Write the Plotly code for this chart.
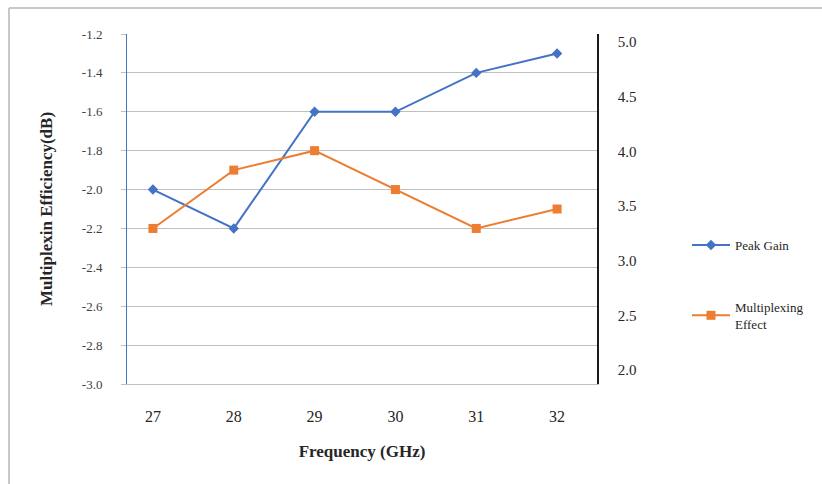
import plotly.graph_objects as go

# Frequency points (GHz)
freq = [27, 28, 29, 30, 31, 32]
# Series values in dB
peak_gain = [-2.0, -2.2, -1.6, -1.6, -1.4, -1.3]
multiplexing_effect = [-2.2, -1.9, -1.8, -2.0, -2.2, -2.1]

# Tick labels
left_ticks = [-3.0, -2.8, -2.6, -2.4, -2.2, -2.0, -1.8, -1.6, -1.4, -1.2]
right_ticks = [2.0, 2.5, 3.0, 3.5, 4.0, 4.5, 5.0]

BLUE = "#4472C4"
ORANGE = "#ED7D31"
SERIF = "'Liberation Serif', 'Times New Roman', serif"
TICK_COLOR = "#404040"
TEXT_COLOR = "#262626"

fig = go.Figure()

fig.add_trace(go.Scatter(
    x=freq, y=peak_gain, name="Peak Gain", mode="lines+markers",
    line=dict(color=BLUE, width=2),
    marker=dict(symbol="diamond", size=8, color=BLUE),
    legendgroup="a",
))
fig.add_trace(go.Scatter(
    x=freq, y=multiplexing_effect, name="Multiplexing<br>Effect", mode="lines+markers",
    line=dict(color=ORANGE, width=2),
    marker=dict(symbol="square", size=9, color=ORANGE),
    legendgroup="b",
))
# Invisible trace so the secondary axis is drawn
fig.add_trace(go.Scatter(
    x=[freq[0]], y=[right_ticks[0]], yaxis="y2", mode="markers",
    marker=dict(opacity=0), showlegend=False, hoverinfo="skip",
))

# Plot area in pixels: left 127, right 597, top 34, bottom 384
L, R, T, B = 127, 597, 34, 384
W, H = 822, 484
pw, ph = R - L, B - T

def px_x(px):
    return (px - L) / pw

def px_y(py):
    return (B - py) / ph

fig.update_layout(
    width=W, height=H,
    margin=dict(l=L, r=W - R, t=T, b=H - B, pad=0, autoexpand=False),
    paper_bgcolor="white", plot_bgcolor="white",
    font=dict(family=SERIF, size=12, color=TICK_COLOR),
    xaxis=dict(
        range=[27 - 26 / 81, 32 + 40 / 81],
        tickvals=freq, ticktext=[str(f) for f in freq],
        showgrid=False, zeroline=False,
        showline=True, linecolor="#BFBFBF", linewidth=1,
        ticks="", ticklabelstandoff=18,
        tickfont=dict(family=SERIF, size=16, color=TEXT_COLOR),
        title=dict(text="<b>Frequency (GHz)</b>", standoff=20,
                   font=dict(family=SERIF, size=17, color=TEXT_COLOR)),
    ),
    yaxis=dict(
        range=[-3.0, -1.2],
        tickvals=left_ticks, ticktext=[f"{v:.1f}" for v in left_ticks],
        showgrid=True, gridcolor="#BFBFBF", gridwidth=1,
        zeroline=False,
        showline=True, linecolor=BLUE, linewidth=1,
        ticks="outside", ticklen=5, tickcolor="#BFBFBF",
        ticklabelstandoff=16,
        tickfont=dict(family=SERIF, size=13, color=TICK_COLOR),
        title=dict(text="<b>Multiplexin Efficiency(dB)</b>", standoff=24,
                   font=dict(family=SERIF, size=17, color=TEXT_COLOR)),
    ),
    yaxis2=dict(
        overlaying="y", side="right",
        range=[2.0 - 14 / 109.3, 5.0 + 8 / 109.3],
        tickvals=right_ticks, ticktext=[f"{v:.1f}" for v in right_ticks],
        showgrid=False, zeroline=False,
        showline=True, linecolor="#1a1a1a", linewidth=1.5,
        ticks="", ticklabelstandoff=16,
        tickfont=dict(family=SERIF, size=15, color=TEXT_COLOR),
    ),
    legend=dict(
        xref="container", yref="container",
        x=687 / W, y=(H - 230) / H, xanchor="left", yanchor="top",
        font=dict(family=SERIF, size=13, color=TEXT_COLOR),
        bgcolor="rgba(0,0,0,0)", traceorder="grouped", tracegroupgap=42,
        itemwidth=38,
    ),
    showlegend=True,
)

# Thin grey frame along the top and left edges
fig.add_shape(type="line", xref="paper", yref="paper",
              x0=px_x(9), x1=px_x(W), y0=px_y(8), y1=px_y(8),
              line=dict(color="#C8C8C8", width=2))
fig.add_shape(type="line", xref="paper", yref="paper",
              x0=px_x(9), x1=px_x(9), y0=px_y(8), y1=px_y(H),
              line=dict(color="#C8C8C8", width=2))

fig.write_html("out.html")
